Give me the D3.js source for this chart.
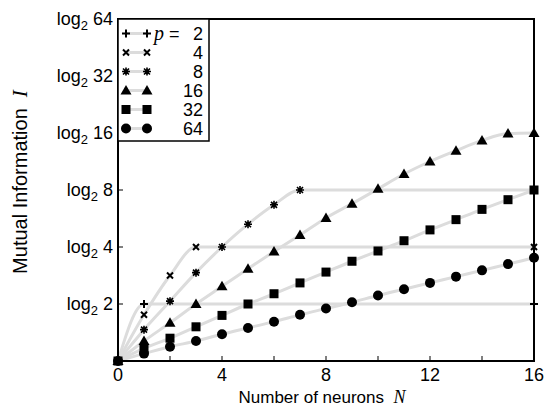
<!DOCTYPE html>
<html>
<head>
<meta charset="utf-8">
<script src="https://cdn.jsdelivr.net/npm/d3@7"></script>
<style>
  body { margin: 0; background: #fff; }
  svg { display: block; font-family: "Liberation Sans", Arial, sans-serif; }
  .tick-label { font-size: 18px; }
  .math { font-family: "Liberation Serif", "Times New Roman", serif; font-style: italic; }
</style>
</head>
<body>
<div id="chart"></div>
<script>
  // number of neurons N, mutual information in bits (log2 of the tick value)
  const pValues = [2, 4, 8, 16, 32, 64];
  const symbols = ["plus", "cross", "asterisk", "triangle", "square", "circle"];

  const infoP2 = [0, 1.0];
  const infoP4 = [0, 0.81, 1.5, 2.0];
  const infoP8 = [0, 0.55, 1.05, 1.55, 2.0, 2.4, 2.74, 3.0];
  const infoP16 = [0, 0.35, 0.67, 1.0, 1.31, 1.62, 1.92, 2.21, 2.51, 2.76, 3.02, 3.28, 3.5, 3.69, 3.87, 3.99, 4.0];
  const infoP32 = [0, 0.22, 0.40, 0.60, 0.80, 1.0, 1.18, 1.37, 1.56, 1.75, 1.93, 2.11, 2.30, 2.48, 2.66, 2.83, 3.0];
  const infoP64 = [0, 0.13, 0.25, 0.35, 0.47, 0.58, 0.69, 0.81, 0.92, 1.03, 1.15, 1.26, 1.37, 1.48, 1.59, 1.70, 1.81];
  const infoSeries = [infoP2, infoP4, infoP8, infoP16, infoP32, infoP64];

  const xTicks = [0, 4, 8, 12, 16];
  const xMinorTicks = [0, 2, 4, 6, 8, 10, 12, 14, 16];
  const yTicks = [2, 4, 8, 16, 32, 64];

  const W = 549, H = 409;
  const margin = {top: 19, right: 15, bottom: 48, left: 118};
  const width = 534 - margin.left;
  const height = 361 - margin.top;
  const maxN = 16;

  const svg = d3.select("#chart").append("svg")
    .attr("width", W)
    .attr("height", H);

  const g = svg.append("g")
    .attr("transform", "translate(" + margin.left + "," + margin.top + ")");

  const x = d3.scaleLinear().domain([0, maxN]).range([0, width]);
  const y = d3.scaleLinear().domain([0, 6]).range([height, 0]);

  // series: read points, then flat at saturation out to N = 16
  const series = pValues.map(function (p, i) {
    const vals = infoSeries[i];
    const pts = vals.map(function (v, n) { return {n: n, v: v}; });
    const last = pts[pts.length - 1];
    if (last.n < maxN) pts.push({n: maxN, v: last.v});
    return {p: p, symbol: symbols[i], points: pts};
  });

  const line = d3.line()
    .x(function (d) { return x(d.n); })
    .y(function (d) { return y(d.v); })
    .curve(d3.curveMonotoneX);

  g.append("g").selectAll("path")
    .data(series)
    .join("path")
    .attr("fill", "none")
    .attr("stroke", "#dcdcdc")
    .attr("stroke-width", 3)
    .attr("d", function (d) { return line(d.points); });

  function drawMarker(sel, symbol) {
    if (symbol === "plus") {
      sel.append("path").attr("d", "M-4,0H4M0,-4V4")
        .attr("stroke", "#000").attr("stroke-width", 2);
    } else if (symbol === "cross") {
      sel.append("path").attr("d", "M-3,-3L3,3M-3,3L3,-3")
        .attr("stroke", "#000").attr("stroke-width", 2);
    } else if (symbol === "asterisk") {
      sel.append("path").attr("d", "M-4,0H4M0,-4V4M-3,-3L3,3M-3,3L3,-3")
        .attr("stroke", "#000").attr("stroke-width", 1.6);
    } else if (symbol === "triangle") {
      sel.append("path").attr("d", "M0,-5.5L5.5,4L-5.5,4Z").attr("fill", "#000");
    } else if (symbol === "square") {
      sel.append("rect").attr("x", -4.5).attr("y", -4.5)
        .attr("width", 9).attr("height", 9).attr("fill", "#000");
    } else {
      sel.append("circle").attr("r", 5).attr("fill", "#000");
    }
  }

  series.forEach(function (s) {
    g.append("g").selectAll("g")
      .data(s.points)
      .join("g")
      .attr("transform", function (d) { return "translate(" + x(d.n) + "," + y(d.v) + ")"; })
      .each(function () { drawMarker(d3.select(this), s.symbol); });
  });

  // inward ticks
  g.append("g").selectAll("line")
    .data(xMinorTicks)
    .join("line")
    .attr("x1", function (d) { return x(d); })
    .attr("x2", function (d) { return x(d); })
    .attr("y1", height).attr("y2", height - 5)
    .attr("stroke", "#000").attr("stroke-width", 1);

  g.append("g").selectAll("line")
    .data(yTicks)
    .join("line")
    .attr("x1", 0).attr("x2", 5)
    .attr("y1", function (d) { return y(Math.log2(d)); })
    .attr("y2", function (d) { return y(Math.log2(d)); })
    .attr("stroke", "#000").attr("stroke-width", 1);

  // frame
  g.append("rect")
    .attr("width", width).attr("height", height)
    .attr("fill", "none").attr("stroke", "#000").attr("stroke-width", 2);

  // tick labels
  g.append("g").selectAll("text")
    .data(xTicks)
    .join("text")
    .attr("class", "tick-label")
    .attr("x", function (d) { return x(d); })
    .attr("y", height + 20)
    .attr("text-anchor", "middle")
    .text(function (d) { return d; });

  const yl = g.append("g").selectAll("text")
    .data(yTicks)
    .join("text")
    .attr("class", "tick-label")
    .attr("x", -5)
    .attr("y", function (d) { return y(Math.log2(d)); })
    .attr("dy", "0.35em")
    .attr("text-anchor", "end");
  yl.append("tspan").text("log");
  yl.append("tspan").attr("font-size", 13).attr("dy", 5).text("2");
  yl.append("tspan").attr("dy", -5).text(function (d) { return "\u00a0" + d; });

  // axis titles
  const xt = svg.append("text")
    .attr("font-size", 17)
    .attr("x", margin.left + width / 2 - 4)
    .attr("y", 403)
    .attr("text-anchor", "middle");
  xt.append("tspan").text("Number of neurons\u00a0\u00a0");
  xt.append("tspan").attr("class", "math").attr("font-size", 18).text("N");

  const yt = svg.append("text")
    .attr("font-size", 20)
    .attr("transform", "translate(27,182) rotate(-90)")
    .attr("text-anchor", "middle");
  yt.append("tspan").text("Mutual Information\u00a0\u00a0");
  yt.append("tspan").attr("class", "math").attr("font-size", 21).text("I");

  // legend
  const legend = g.append("g");
  legend.append("rect")
    .attr("x", 0).attr("y", 0)
    .attr("width", 91).attr("height", 122)
    .attr("fill", "#fff").attr("stroke", "#000").attr("stroke-width", 1.5);

  const rows = legend.selectAll("g.row")
    .data(series)
    .join("g")
    .attr("class", "row")
    .attr("transform", function (d, i) { return "translate(0," + (14.5 + i * 19) + ")"; });

  rows.append("line")
    .attr("x1", 8).attr("x2", 29)
    .attr("stroke", "#dcdcdc").attr("stroke-width", 3);
  rows.each(function (d) {
    const r = d3.select(this);
    drawMarker(r.append("g").attr("transform", "translate(8,0)"), d.symbol);
    drawMarker(r.append("g").attr("transform", "translate(29,0)"), d.symbol);
  });
  rows.append("text")
    .attr("class", "tick-label")
    .attr("x", 85)
    .attr("dy", "0.35em")
    .attr("text-anchor", "end")
    .text(function (d) { return d.p; });
  legend.append("text")
    .attr("x", 36).attr("y", 14.5).attr("dy", "0.35em")
    .attr("font-size", 18)
    .html('<tspan class="math" font-size="20">p</tspan> =');
</script>
</body>
</html>
